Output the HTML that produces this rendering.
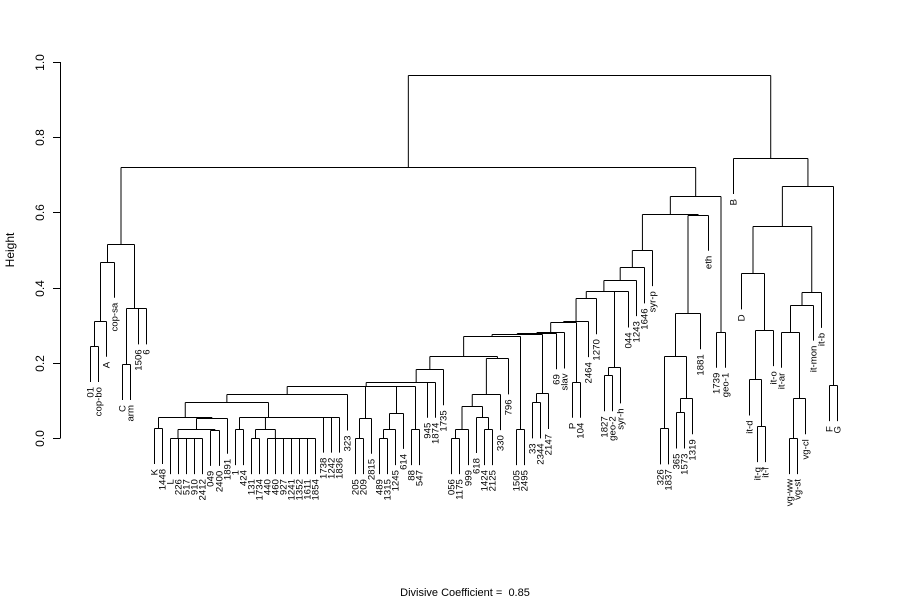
<!DOCTYPE html>
<html><head><meta charset="utf-8"><style>
html,body{margin:0;padding:0;background:#fff}
svg{display:block;font-family:"Liberation Sans",sans-serif}
</style></head><body>
<svg id="chart" width="900" height="600" viewBox="0 0 900 600" xmlns="http://www.w3.org/2000/svg">
<g id="axis"></g>
<g id="tree"></g>
<g id="labels"></g>
<text x="0" y="0" transform="translate(14,250) rotate(-90)" text-anchor="middle" font-size="12">Height</text>
<text x="465" y="596" text-anchor="middle" font-size="11">Divisive Coefficient = &#160;0.85</text>
</svg>
<script>
// Tree data: node = [height, left, right]; leaf = label
const copGroup = [0.515,
  [0.469, [0.312, [0.245, "01", "cop-bo"], "A"], "cop-sa"],
  [0.347, [0.197, "C", "arm"], [0.345, "1506", "6"]]];
const groupG = [0.055, [0.027, "K", "1448"],
  [0.054, [0.024, [0, "L", [0, "226", [0, "517", [0, "910", "2412"]]]], [0.022, "049", "2400"]], "1891"]];
const groupH = [0.057, [0.024, "1", "424"],
  [0.057, [0.024, [0, "131", "1734"], [0, "440", [0, "460", [0, "927", [0, "1241", [0, "1352", [0, "1611", "1854"]]]]]]],
    [0.057, "1738", [0.057, "1242", "1836"]]]];
const groupJ = [0.116, [0.097, groupG, groupH], "323"];
const groupR1 = [0.054, [0, "205", "209"], "2815"];
const groupR4 = [0.137, [0.067, [0.024, [0, "489", "1315"], "1245"], "614"], [0.024, "88", "547"]];
const groupK = [0.150, [0.150, [0.138, [0.138, groupJ, groupR1], groupR4], "945"], "1874"];
const groupQ = [0.117, [0.086, [0.024, [0, "056", "1175"], "999"], [0.056, "618", [0.024, "1424", "2125"]]], "330"];
const groupX = [0.218, [0.183, groupK, "1735"], [0.212, groupQ, "796"]];
const groupNd = [0.281, [0.279, [0.276, [0.272, groupX, [0.024, "1505", "2495"]], [0.12, [0.095, "33", "2344"], "2147"]], "69"], "slav"];
const groupNg = [0.372, [0.311, [0.309, groupNd, [0.15, "P", "104"]], "2464"], "1270"];
const groupY = [0.5, [0.454, [0.42, [0.392, groupNg, [0.390, [0.188, [0.167, "1827", "geo-2"], "syr-h"], "044"]], "1243"], "1646"], "syr-p"];
const groupZ = [0.644, [0.595, groupY, [0.594, [0.332, [0.219, [0.026, "326", "1837"], [0.106, [0.068, "365", "1573"], "1319"]], "1881"], "eth"]], [0.283, "1739", "geo-1"]];
const rightGroup = [0.745, "B", [0.67,
  [0.564, [0.438, "D", [0.287, [0.156, "it-d", [0.032, "it-g", "it-f"]], "it-o"]],
    [0.389, [0.355, [0.283, "it-ar", [0.106, [0, "vg-ww", "vg-st"], "vg-cl"]], "it-mon"], "it-b"]],
  [0.141, "F", "G"]]];
const root = [0.965, [0.721, copGroup, groupZ], rightGroup];
const yTicks = [0.0, 0.2, 0.4, 0.6, 0.8, 1.0];
const yTickLabels = ["0.0", "0.2", "0.4", "0.6", "0.8", "1.0"];
const hang = 0.096;

const NS = "http://www.w3.org/2000/svg";
const yScale = h => 438 - h * 376;
const leafX = i => 90 + i * 8.032;
const treeG = document.getElementById("tree");
const labG = document.getElementById("labels");
const axG = document.getElementById("axis");

function line(parent, x1, y1, x2, y2, name) {
  const l = document.createElementNS(NS, "line");
  l.setAttribute("x1", x1); l.setAttribute("y1", y1);
  l.setAttribute("x2", x2); l.setAttribute("y2", y2);
  l.setAttribute("stroke", "#000"); l.setAttribute("stroke-width", "1");
  
  
  parent.appendChild(l);
  return l;
}

let leafCount = 0;
function layout(node, parentH) {
  if (typeof node === "string") {
    const x = Math.round(leafX(leafCount++)) + 0.5;
    const bottom = yScale(parentH - hang);
    const t = document.createElementNS(NS, "text");
    t.textContent = node;
    t.setAttribute("transform", "translate(" + (x + 3.2) + "," + (bottom + 5) + ") rotate(-90)");
    t.setAttribute("text-anchor", "end");
    t.setAttribute("font-size", "9.6");
    
    
    labG.appendChild(t);
    return { x: x, top: bottom };
  }
  const h = node[0];
  const a = layout(node[1], h);
  const b = layout(node[2], h);
  const y = Math.round(yScale(h)) + 0.5;
  line(treeG, a.x, a.top, a.x, y, "branch-vertical");
  line(treeG, b.x, b.top, b.x, y, "branch-vertical");
  line(treeG, a.x, y, b.x, y, "merge-horizontal");
  return { x: (a.x + b.x) / 2, top: y };
}
layout(root, root[0]);

line(axG, 60.5, yScale(yTicks[0]), 60.5, yScale(yTicks[yTicks.length - 1]), "y-axis-line");
yTicks.forEach((v, i) => {
  const y = Math.round(yScale(v)) + 0.5;
  line(axG, 53, y, 60.5, y, "y-tick");
  const t = document.createElementNS(NS, "text");
  t.textContent = yTickLabels[i];
  t.setAttribute("transform", "translate(44," + y + ") rotate(-90)");
  t.setAttribute("text-anchor", "middle");
  t.setAttribute("font-size", "12");
  
  
  axG.appendChild(t);
});
</script>
</body></html>
